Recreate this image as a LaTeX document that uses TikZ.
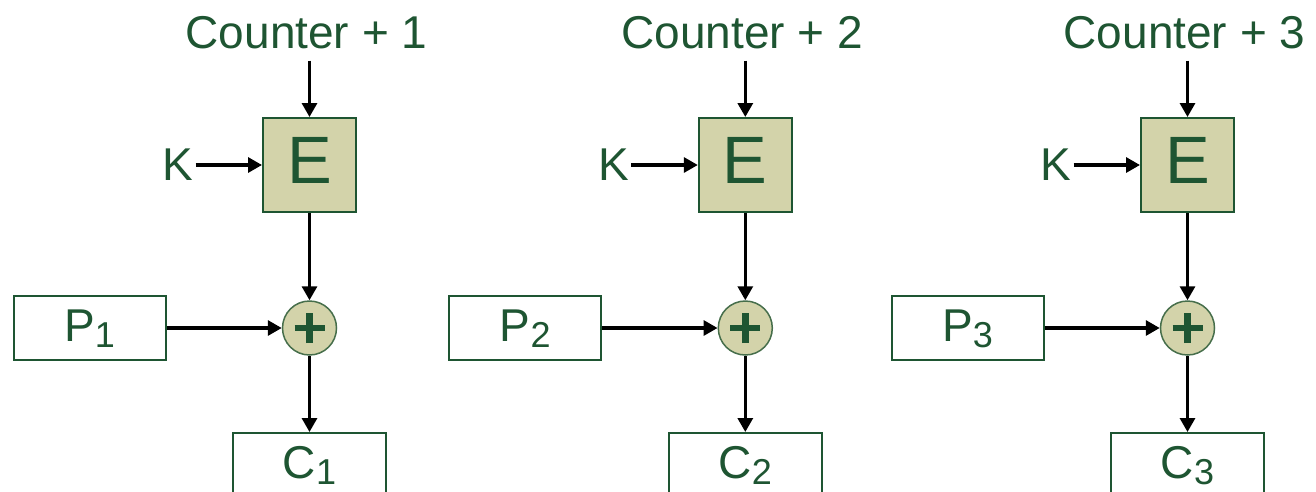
\documentclass[tikz,border=0pt]{standalone}
\usepackage{fontspec}
\setmainfont{Liberation Sans}
\usetikzlibrary{arrows.meta}
\definecolor{tg}{RGB}{30,85,50}
\definecolor{tanfill}{RGB}{211,211,170}
\definecolor{cb}{RGB}{70,110,75}
\newcommand\mysub[1]{\raisebox{-6pt}{\fontsize{36}{40}\selectfont #1}}
\begin{document}
\begin{tikzpicture}[x=1pt,y=-1pt,
 arr/.style={line width=3.2pt,-{Triangle[length=14pt,width=15pt]}},
 ebox/.style={draw=tg,line width=2pt,fill=tanfill,minimum width=93pt,minimum height=94pt,inner sep=0pt,text=tg,font=\fontsize{67}{70}\selectfont,text height=48pt,text depth=12pt},
 lab/.style={text=tg,font=\fontsize{46}{50}\selectfont,inner sep=2pt},
 xorn/.style={circle,draw=cb,line width=1.5pt,fill=tanfill,minimum size=54pt,inner sep=0pt,
   path picture={\draw[tg,line width=6.5pt] ([xshift=-15pt]path picture bounding box.center) -- ([xshift=15pt]path picture bounding box.center);
                 \draw[tg,line width=6.5pt] ([yshift=-15pt]path picture bounding box.center) -- ([yshift=15pt]path picture bounding box.center);}},
 pbox/.style={draw=tg,line width=2pt,fill=white,minimum width=152pt,minimum height=64pt,inner sep=0pt,text=tg,font=\fontsize{46}{50}\selectfont,text height=33pt,text depth=7pt},
 cbox/.style={draw=tg,line width=2pt,fill=white,minimum width=153pt,minimum height=90pt,inner sep=0pt,text=tg,font=\fontsize{46}{50}\selectfont,text height=33pt,text depth=33pt}
]
\useasboundingbox (0,0) rectangle (1316,491);
\clip (0,0) rectangle (1316,491);
\foreach \i/\ex in {1/309.5,2/745.3,3/1187.5}{
 \node[ebox] (e\i) at (\ex,165) {E};
 \node[lab,anchor=base] (cnt\i) at (\ex-3,48) {Counter + \i};
 \node[lab,anchor=east] (k\i) at (\ex-114,165) {K};
 \node[xorn] (x\i) at (\ex,328) {};
 \node[pbox] (p\i) at (\ex-220,328) {P\mysub{\i}};
 \node[cbox,anchor=north] (c\i) at (\ex,432) {C\mysub{\i}};
 \draw[arr] ([yshift=-10pt]cnt\i.south -| e\i.north) -- (e\i.north);
 \draw[arr] (k\i) -- (e\i);
 \draw[arr] (e\i) -- (x\i);
 \draw[arr] (p\i) -- (x\i);
 \draw[arr] (x\i) -- (c\i);
}
\end{tikzpicture}
\end{document}
